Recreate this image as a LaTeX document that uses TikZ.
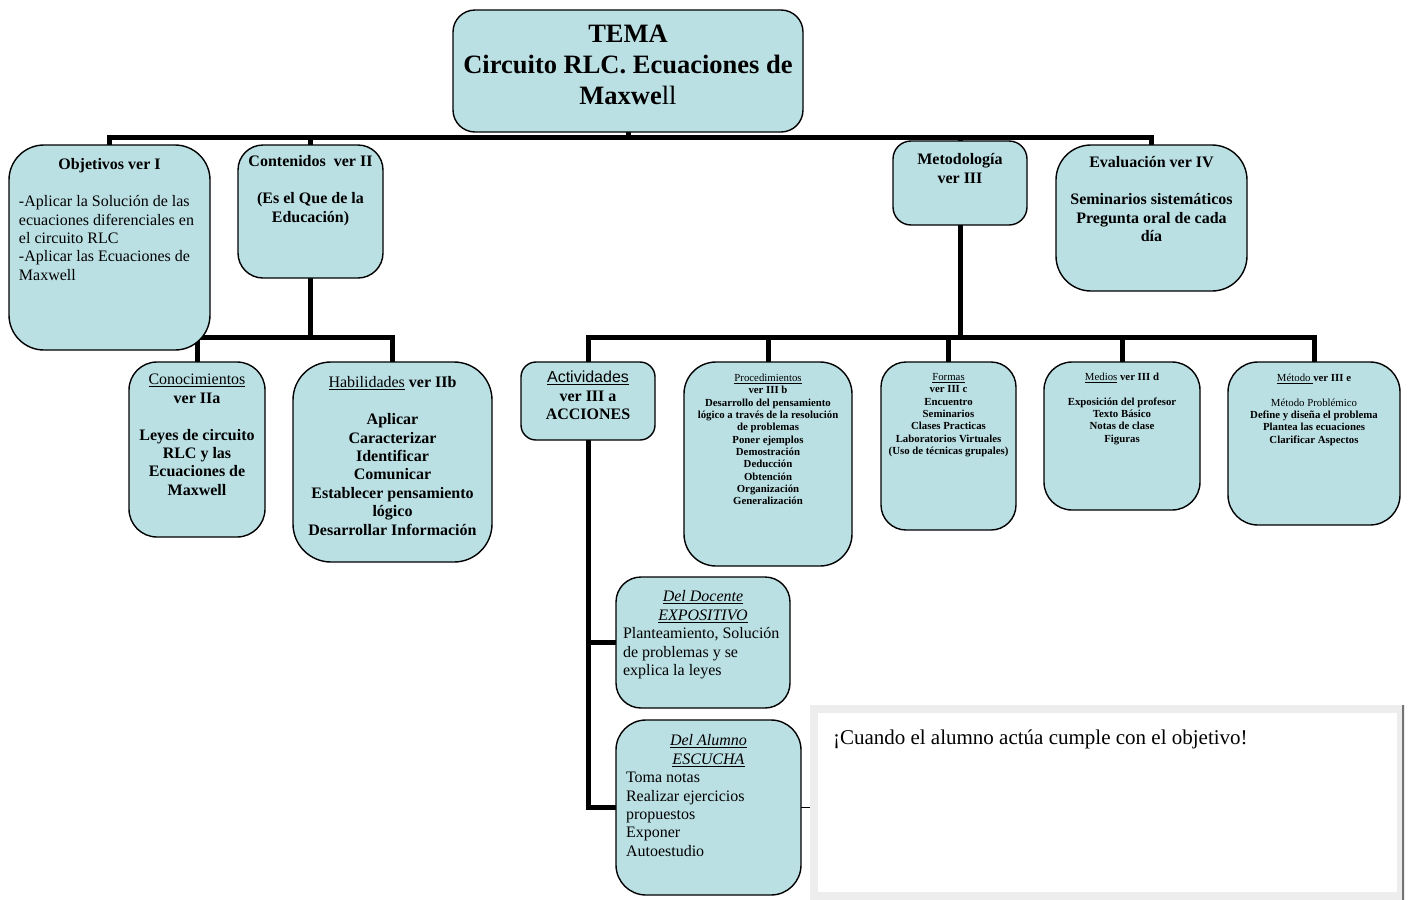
\documentclass[tikz,border=0pt]{standalone}
\usepackage{fontspec}
\setmainfont{Liberation Serif}
\setsansfont{Liberation Sans}
\usetikzlibrary{positioning}
\definecolor{celeste}{RGB}{187,224,228}
\pgfdeclarelayer{fondo}
\pgfsetlayers{fondo,main}
% width, height, gap above first line, text
\newcommand{\inbox}[4]{\parbox[c][#2][t]{#1}{\vspace*{#3}#4}}

\begin{document}
\begin{tikzpicture}[x=1pt, y=-1pt,
    caja/.style={draw, fill=celeste, line width=1.4pt, inner ysep=0pt, outer sep=0pt,
                 anchor=north west, font=\fontsize{16}{18.4}\selectfont},
    chica/.style={font=\fontsize{10.8}{12.3}\selectfont\bfseries},
    enlace/.style={line width=5pt}]
    \useasboundingbox (0,0) rectangle (1409,900);

    % tema
    \node[caja, rounded corners=22pt, inner xsep=10pt,
          font=\fontsize{26.5}{31}\selectfont\bfseries] (tema) at (453,10)
      {\inbox{330pt}{122pt}{10.3pt}{\centering\strut TEMA\\ Circuito RLC. Ecuaciones de\\ Maxwe{\mdseries ll}}};

    % primer nivel
    \node[caja, rounded corners=35pt, inner xsep=10pt] (obj) at (9,145)
      {\inbox{181pt}{205pt}{12pt}{\centering\strut\textbf{Objetivos ver I}\\[\baselineskip]\raggedright
        -Aplicar la Solución de las\\ ecuaciones diferenciales en\\ el circuito RLC\\ -Aplicar las Ecuaciones de\\ Maxwell}};
    \node[caja, rounded corners=25pt, inner xsep=6pt] (cont) at (238,145)
      {\inbox{133pt}{133pt}{9.1pt}{\centering\bfseries\strut Contenidos\ \ ver II\\[\baselineskip](Es el Que de la\\ Educación)}};
    \node[caja, rounded corners=18pt, inner xsep=6pt] (met) at (893,141)
      {\inbox{122pt}{84pt}{11.1pt}{\centering\bfseries\strut Metodología\\ ver III}};
    \node[caja, rounded corners=35pt, inner xsep=8pt] (eval) at (1056,145)
      {\inbox{175pt}{146pt}{10.1pt}{\centering\bfseries\strut Evaluación ver IV\\[\baselineskip]Seminarios sistemáticos\\ Pregunta oral de cada\\ día}};

    % contenidos
    \node[caja, rounded corners=28pt, inner xsep=6pt] (cono) at (129,362)
      {\inbox{124pt}{175pt}{10.1pt}{\centering\strut\underline{Conocimientos}\\ \textbf{ver IIa}\\[\baselineskip]\bfseries
        Leyes de circuito\\ RLC y las\\ Ecuaciones de\\ Maxwell}};
    \node[caja, rounded corners=38pt, inner xsep=10pt] (hab) at (293,362)
      {\inbox{179pt}{200pt}{13.1pt}{\centering\strut\underline{Habilidades} \textbf{ver IIb}\\[\baselineskip]\bfseries
        Aplicar\\ Caracterizar\\ Identificar\\ Comunicar\\ Establecer pensamiento\\ lógico\\ Desarrollar Información}};

    % metodologia
    \node[caja, rounded corners=15pt, inner xsep=6pt] (act) at (521,362)
      {\inbox{122pt}{78pt}{8.1pt}{\centering\strut\underline{\sffamily Actividades}\\ \bfseries ver III a\\ ACCIONES}};
    \node[caja, chica, rounded corners=32pt, inner xsep=9pt] (proc) at (684,362)
      {\inbox{150pt}{204pt}{11pt}{\centering\strut\underline{\mdseries Procedimientos}\\ ver III b\\ Desarrollo del pensamiento\\
        lógico a través de la resolución\\ de problemas\\ Poner ejemplos\\ Demostración\\ Deducción\\ Obtención\\ Organización\\ Generalización}};
    \node[caja, chica, rounded corners=25pt, inner xsep=5pt] (formas) at (881,362)
      {\inbox{125pt}{168pt}{10pt}{\centering\strut\underline{\mdseries Formas}\\ ver III c\\ Encuentro\\ Seminarios\\ Clases Practicas\\
        Laboratorios Virtuales\\ (Uso de técnicas grupales)}};
    \node[caja, chica, rounded corners=28pt, inner xsep=8pt] (medios) at (1044,362)
      {\inbox{140pt}{148pt}{10pt}{\centering\strut\underline{\mdseries Medios} ver III d\\[\baselineskip]
        Exposición del profesor\\ Texto Básico\\ Notas de clase\\ Figuras}};
    \node[caja, chica, rounded corners=30pt, inner xsep=8pt] (metodo) at (1228,362)
      {\inbox{156pt}{163pt}{11pt}{\centering\strut\underline{\mdseries Método }ver III e\\[\baselineskip]
        {\mdseries Método Problémico}\\ Define y diseña el problema\\ Plantea las ecuaciones\\ Clarificar Aspectos}};

    % acciones
    \node[caja, rounded corners=25pt, inner xsep=7pt] (doc) at (616,577)
      {\inbox{160pt}{131pt}{12.1pt}{\centering\strut\underline{\textit{Del Docente}}\\ \underline{\textit{EXPOSITIVO}}\par\raggedright
        Planteamiento, Solución\\ de problemas y se\\ explica la leyes}};
    \node[caja, rounded corners=30pt, inner xsep=10pt] (alum) at (616,720)
      {\inbox{165pt}{175pt}{13.1pt}{\centering\strut\underline{\textit{Del Alumno}}\\ \underline{\textit{ESCUCHA}}\par\raggedright
        Toma notas\\ Realizar ejercicios\\ propuestos\\ Exponer\\ Autoestudio}};

    % nota
    \node[draw=black!7, line width=8pt, fill=white, inner xsep=19pt, inner ysep=0pt, outer sep=0pt,
          anchor=north west, font=\fontsize{21}{24}\selectfont] (nota) at (814,709)
      {\inbox{549pt}{187pt}{19pt}{\raggedright\strut ¡Cuando el alumno actúa cumple con el objetivo!}};
    \draw[black!55, line width=1.5pt] ([shift={(2,-4)}]nota.north east) -- ([shift={(2,4)}]nota.south east);

    \begin{pgfonlayer}{fondo}
    \draw[enlace] (tema.south) -- ++(0,5) coordinate (b1);
    \draw[enlace] (obj.north) |- (b1) -| (eval.north);
    \draw[enlace] (cont.north) -- (cont.north |- b1);
    \draw[enlace] (met.north) -- (met.north |- b1);
    \draw[enlace] (cont.south) -- ++(0,59) coordinate (b2);
    \draw[enlace] (cono.north) |- (b2) -| (hab.north);
    \draw[enlace] (met.south) -- ++(0,112) coordinate (b3);
    \draw[enlace] (act.north) |- (b3) -| (metodo.north);
    \foreach \n in {proc,formas,medios}
      \draw[enlace] (\n.north) -- (\n.north |- b3);
    \draw[enlace] (act.south) |- (alum.west);
    \draw[enlace] (act.south |- doc.west) -- (doc.west);
    \draw[line width=1.5pt] (alum.east) -- (alum.east -| nota.west);
    \end{pgfonlayer}
\end{tikzpicture}
\end{document}
